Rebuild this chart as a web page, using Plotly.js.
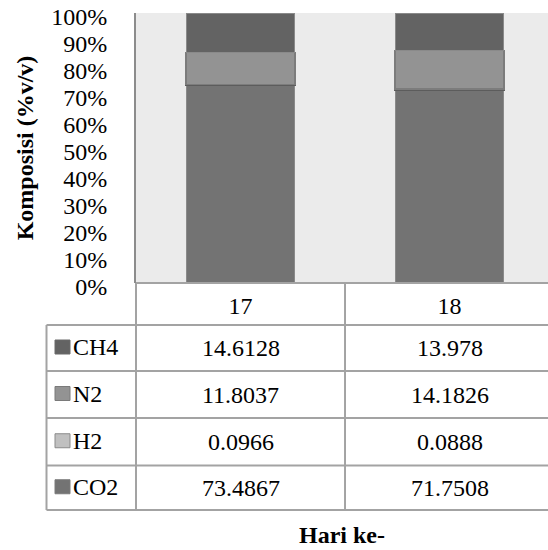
<!DOCTYPE html>
<html>
<head>
<meta charset="utf-8">
<script src="https://cdn.plot.ly/plotly-3.0.1.min.js"></script>
<style>
  html, body { margin: 0; padding: 0; background: #fff; font-family: 'Liberation Serif', serif; }
  #chart { width: 548px; height: 550px; }
</style>
</head>
<body>
<div id="chart"></div>
<script>
// ---- data ----
const days = ['17', '18'];
const ch4 = [14.6128, 13.978];
const n2 = [11.8037, 14.1826];
const h2 = [0.0966, 0.0888];
const co2 = [73.4867, 71.7508];
const yTicks = [0, 10, 20, 30, 40, 50, 60, 70, 80, 90, 100];

// ---- styling ----
const FONT = 'Liberation Serif';
const FS = 24;
const series = [
  { name: 'CO2', values: co2, fill: '#737373', line: '#8a8a8a', lw: 1 },
  { name: 'H2',  values: h2,  fill: '#c0c0c0', line: '#5c5c5c', lw: 3 },
  { name: 'N2',  values: n2,  fill: '#939393', line: '#7c7c7c', lw: 1.5 },
  { name: 'CH4', values: ch4, fill: '#636363', line: '#8a8a8a', lw: 1 }
];
const swatchBorder = { CH4: '#6a6a6a', N2: '#7a7a7a', H2: '#8a8a8a', CO2: '#7a7a7a' };

// plot-area geometry in page pixels
const L = 136, R = 548, T = 13, B = 283;
const px = v => (v - L) / (R - L);
const py = v => (B - v) / (B - T);
const rowEdges = [283, 325, 371, 418, 465.5, 510];
const tableLeft = 46.5;
const lineCol = '#a3a3a3';

const traces = series.map(s => ({
  type: 'bar',
  name: s.name,
  x: days,
  y: s.values,
  width: 0.52,
  marker: { color: s.fill, line: { color: s.line, width: s.lw } },
  hoverinfo: 'name+y'
}));

const shapes = [];
const annotations = [];
// horizontal table lines
shapes.push({ type: 'line', xref: 'paper', yref: 'paper', x0: 0, x1: 1, y0: py(rowEdges[0]), y1: py(rowEdges[0]), line: { color: lineCol, width: 2 } });
for (let i = 1; i < rowEdges.length; i++) {
  shapes.push({ type: 'line', xref: 'paper', yref: 'paper', x0: px(tableLeft), x1: 1, y0: py(rowEdges[i]), y1: py(rowEdges[i]), line: { color: lineCol, width: 2 } });
}
// vertical table lines
shapes.push({ type: 'line', xref: 'paper', yref: 'paper', x0: 0, x1: 0, y0: py(rowEdges[0]), y1: py(rowEdges[5]), line: { color: lineCol, width: 2 } });
shapes.push({ type: 'line', xref: 'paper', yref: 'paper', x0: px(tableLeft), x1: px(tableLeft), y0: py(rowEdges[1]), y1: py(rowEdges[5]), line: { color: lineCol, width: 2 } });
shapes.push({ type: 'line', xref: 'x', yref: 'paper', x0: 0.5, x1: 0.5, y0: py(rowEdges[0]), y1: py(rowEdges[5]), line: { color: lineCol, width: 2 } });

// table rows: top to bottom CH4, N2, H2, CO2
const rows = series.slice().reverse();
rows.forEach((s, r) => {
  const top = rowEdges[r + 1], bot = rowEdges[r + 2];
  const c = (top + bot) / 2;
  shapes.push({ type: 'rect', xref: 'paper', yref: 'paper',
    x0: px(55), x1: px(70), y0: py(c - 8), y1: py(c + 6),
    fillcolor: s.fill, line: { color: swatchBorder[s.name], width: 1 } });
  annotations.push({ xref: 'paper', yref: 'paper', x: px(71), y: py(c - 1), xanchor: 'left', yanchor: 'middle',
    text: s.name, showarrow: false, font: { family: FONT, size: FS, color: '#000' } });
  s.values.forEach((v, i) => {
    annotations.push({ xref: 'x', yref: 'paper', x: i, y: py(c), xanchor: 'center', yanchor: 'middle',
      text: String(v), showarrow: false, font: { family: FONT, size: FS, color: '#000' } });
  });
});

const layout = {
  width: 548, height: 550,
  margin: { l: L, r: 0, t: T, b: 550 - B, pad: 0 },
  paper_bgcolor: '#ffffff',
  plot_bgcolor: '#ebebeb',
  barmode: 'stack',
  barnorm: 'percent',
  showlegend: false,
  font: { family: FONT, color: '#000', size: FS },
  xaxis: {
    type: 'category',
    range: [-0.5, 1.471],
    showgrid: false, zeroline: false, showline: false,
    ticks: '',
    tickfont: { family: FONT, size: FS, color: '#000' },
    ticklabelstandoff: 6,
    title: { text: 'Hari ke-', font: { family: FONT, size: FS, color: '#000', weight: 'bold' }, standoff: 208 },
    automargin: false, fixedrange: true
  },
  yaxis: {
    range: [0, 100],
    tickvals: yTicks,
    ticktext: yTicks.map(v => v + '%'),
    showgrid: false, zeroline: false,
    showline: true, linecolor: '#8c8c8c', linewidth: 2,
    ticks: '',
    ticklabelstandoff: 22,
    ticklabelshift: 4,
    ticklabeloverflow: 'allow',
    tickfont: { family: FONT, size: FS, color: '#000' },
    title: { text: 'Komposisi (%v/v)', font: { family: FONT, size: FS, color: '#000', weight: 'bold' }, standoff: 11 },
    automargin: false, fixedrange: true
  },
  shapes: shapes,
  annotations: annotations
};

function draw() {
  Plotly.newPlot('chart', traces, layout, { displayModeBar: false });
}
if (document.fonts && document.fonts.load) {
  Promise.all([
    document.fonts.load('24px "Liberation Serif"'),
    document.fonts.load('bold 24px "Liberation Serif"')
  ]).then(draw, draw);
} else {
  draw();
}
</script>
</body>
</html>
